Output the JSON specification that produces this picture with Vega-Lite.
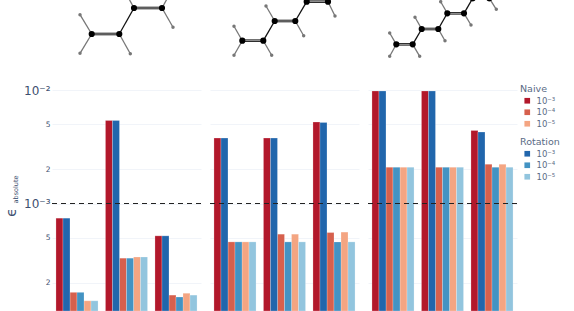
{
"$schema":"https://vega.github.io/schema/vega-lite/v6.json",
"background":"white",
"padding":{"left":4,"top":0,"right":0,"bottom":0},
"bounds":"flush",
"columns":3,
"spacing":{"column":9,"row":22},
"resolve":{"scale":{"color":"independent"},"legend":{"color":"independent"}},
"config":{"view":{"stroke":null},"font":"DejaVu Sans"},
"datasets":{
"bonds":[
{"mol":"C4","x":91.7,"y":34,"x2":119.3,"y2":34,"kind":"double"},{"mol":"C4","x":119.3,"y":34,"x2":134,"y2":8,"kind":"single"},{"mol":"C4","x":134,"y":8,"x2":162,"y2":8,"kind":"double"},
{"mol":"C4","x":91.7,"y":34,"x2":80,"y2":14.7,"kind":"ch"},{"mol":"C4","x":91.7,"y":34,"x2":80,"y2":53.3,"kind":"ch"},{"mol":"C4","x":119.3,"y":34,"x2":130.3,"y2":53.7,"kind":"ch"},{"mol":"C4","x":162,"y":8,"x2":173,"y2":27.3,"kind":"ch"},{"mol":"C4","x":134,"y":8,"x2":123,"y2":-12,"kind":"ch"},{"mol":"C4","x":162,"y":8,"x2":173,"y2":-12,"kind":"ch"},
{"mol":"C6","x":242.3,"y":40.7,"x2":263.3,"y2":40.7,"kind":"double"},{"mol":"C6","x":263.3,"y":40.7,"x2":274.7,"y2":21,"kind":"single"},{"mol":"C6","x":274.7,"y":21,"x2":295.3,"y2":21,"kind":"double"},{"mol":"C6","x":295.3,"y":21,"x2":306.7,"y2":1.7,"kind":"single"},{"mol":"C6","x":306.7,"y":1.7,"x2":328,"y2":1.7,"kind":"double"},
{"mol":"C6","x":242.3,"y":40.7,"x2":234,"y2":26.3,"kind":"ch"},{"mol":"C6","x":242.3,"y":40.7,"x2":234,"y2":55.3,"kind":"ch"},{"mol":"C6","x":263.3,"y":40.7,"x2":271.7,"y2":55.3,"kind":"ch"},{"mol":"C6","x":274.7,"y":21,"x2":266,"y2":6,"kind":"ch"},{"mol":"C6","x":295.3,"y":21,"x2":303.7,"y2":35.7,"kind":"ch"},{"mol":"C6","x":328,"y":1.7,"x2":335,"y2":16,"kind":"ch"},
{"mol":"C8","x":396.3,"y":44.3,"x2":412.7,"y2":44.3,"kind":"double"},{"mol":"C8","x":412.7,"y":44.3,"x2":421.7,"y2":29,"kind":"single"},{"mol":"C8","x":421.7,"y":29,"x2":438.3,"y2":29,"kind":"double"},{"mol":"C8","x":438.3,"y":29,"x2":447.3,"y2":13.3,"kind":"single"},{"mol":"C8","x":447.3,"y":13.3,"x2":464,"y2":13.3,"kind":"double"},{"mol":"C8","x":464,"y":13.3,"x2":472.7,"y2":-1.7,"kind":"single"},{"mol":"C8","x":472.7,"y":-1.7,"x2":489.3,"y2":-1.7,"kind":"double"},
{"mol":"C8","x":396.3,"y":44.3,"x2":389.7,"y2":33,"kind":"ch"},{"mol":"C8","x":396.3,"y":44.3,"x2":389.7,"y2":56.3,"kind":"ch"},{"mol":"C8","x":412.7,"y":44.3,"x2":419.7,"y2":56.3,"kind":"ch"},{"mol":"C8","x":421.7,"y":29,"x2":415,"y2":17.3,"kind":"ch"},{"mol":"C8","x":438.3,"y":29,"x2":445,"y2":40.7,"kind":"ch"},{"mol":"C8","x":447.3,"y":13.3,"x2":440.7,"y2":1.7,"kind":"ch"},{"mol":"C8","x":464,"y":13.3,"x2":471,"y2":25,"kind":"ch"},{"mol":"C8","x":489.3,"y":-1.7,"x2":496.3,"y2":9.3,"kind":"ch"}
],
"atoms":[
{"mol":"C4","x":91.7,"y":34,"el":"C"},{"mol":"C4","x":119.3,"y":34,"el":"C"},{"mol":"C4","x":134,"y":8,"el":"C"},{"mol":"C4","x":162,"y":8,"el":"C"},
{"mol":"C4","x":80,"y":14.7,"el":"H"},{"mol":"C4","x":80,"y":53.3,"el":"H"},{"mol":"C4","x":130.3,"y":53.7,"el":"H"},{"mol":"C4","x":173,"y":27.3,"el":"H"},
{"mol":"C6","x":242.3,"y":40.7,"el":"C"},{"mol":"C6","x":263.3,"y":40.7,"el":"C"},{"mol":"C6","x":274.7,"y":21,"el":"C"},{"mol":"C6","x":295.3,"y":21,"el":"C"},{"mol":"C6","x":306.7,"y":1.7,"el":"C"},{"mol":"C6","x":328,"y":1.7,"el":"C"},
{"mol":"C6","x":234,"y":26.3,"el":"H"},{"mol":"C6","x":234,"y":55.3,"el":"H"},{"mol":"C6","x":271.7,"y":55.3,"el":"H"},{"mol":"C6","x":266,"y":6,"el":"H"},{"mol":"C6","x":303.7,"y":35.7,"el":"H"},{"mol":"C6","x":335,"y":16,"el":"H"},
{"mol":"C8","x":396.3,"y":44.3,"el":"C"},{"mol":"C8","x":412.7,"y":44.3,"el":"C"},{"mol":"C8","x":421.7,"y":29,"el":"C"},{"mol":"C8","x":438.3,"y":29,"el":"C"},{"mol":"C8","x":447.3,"y":13.3,"el":"C"},{"mol":"C8","x":464,"y":13.3,"el":"C"},{"mol":"C8","x":472.7,"y":-1.7,"el":"C"},{"mol":"C8","x":489.3,"y":-1.7,"el":"C"},
{"mol":"C8","x":389.7,"y":33,"el":"H"},{"mol":"C8","x":389.7,"y":56.3,"el":"H"},{"mol":"C8","x":419.7,"y":56.3,"el":"H"},{"mol":"C8","x":415,"y":17.3,"el":"H"},{"mol":"C8","x":445,"y":40.7,"el":"H"},{"mol":"C8","x":440.7,"y":1.7,"el":"H"},{"mol":"C8","x":471,"y":25,"el":"H"},{"mol":"C8","x":496.3,"y":9.3,"el":"H"}
],
"bars":[
{"mol":"C4","group":"a","method":"Naive","tol":"10⁻³","series":"N3","err":0.000743},{"mol":"C4","group":"a","method":"Rotation","tol":"10⁻³","series":"R3","err":0.000743},{"mol":"C4","group":"a","method":"Naive","tol":"10⁻⁴","series":"N4","err":0.000165},{"mol":"C4","group":"a","method":"Rotation","tol":"10⁻⁴","series":"R4","err":0.000165},{"mol":"C4","group":"a","method":"Naive","tol":"10⁻⁵","series":"N5","err":0.000139},{"mol":"C4","group":"a","method":"Rotation","tol":"10⁻⁵","series":"R5","err":0.000139},
{"mol":"C4","group":"b","method":"Naive","tol":"10⁻³","series":"N3","err":0.0054},{"mol":"C4","group":"b","method":"Rotation","tol":"10⁻³","series":"R3","err":0.0054},{"mol":"C4","group":"b","method":"Naive","tol":"10⁻⁴","series":"N4","err":0.00033},{"mol":"C4","group":"b","method":"Rotation","tol":"10⁻⁴","series":"R4","err":0.00033},{"mol":"C4","group":"b","method":"Naive","tol":"10⁻⁵","series":"N5","err":0.000338},{"mol":"C4","group":"b","method":"Rotation","tol":"10⁻⁵","series":"R5","err":0.000338},
{"mol":"C4","group":"c","method":"Naive","tol":"10⁻³","series":"N3","err":0.000519},{"mol":"C4","group":"c","method":"Rotation","tol":"10⁻³","series":"R3","err":0.000519},{"mol":"C4","group":"c","method":"Naive","tol":"10⁻⁴","series":"N4","err":0.000156},{"mol":"C4","group":"c","method":"Rotation","tol":"10⁻⁴","series":"R4","err":0.00015},{"mol":"C4","group":"c","method":"Naive","tol":"10⁻⁵","series":"N5","err":0.000162},{"mol":"C4","group":"c","method":"Rotation","tol":"10⁻⁵","series":"R5","err":0.000156},
{"mol":"C6","group":"a","method":"Naive","tol":"10⁻³","series":"N3","err":0.00377},{"mol":"C6","group":"a","method":"Rotation","tol":"10⁻³","series":"R3","err":0.00377},{"mol":"C6","group":"a","method":"Naive","tol":"10⁻⁴","series":"N4","err":0.000459},{"mol":"C6","group":"a","method":"Rotation","tol":"10⁻⁴","series":"R4","err":0.000459},{"mol":"C6","group":"a","method":"Naive","tol":"10⁻⁵","series":"N5","err":0.000459},{"mol":"C6","group":"a","method":"Rotation","tol":"10⁻⁵","series":"R5","err":0.000459},
{"mol":"C6","group":"b","method":"Naive","tol":"10⁻³","series":"N3","err":0.00377},{"mol":"C6","group":"b","method":"Rotation","tol":"10⁻³","series":"R3","err":0.00377},{"mol":"C6","group":"b","method":"Naive","tol":"10⁻⁴","series":"N4","err":0.000537},{"mol":"C6","group":"b","method":"Rotation","tol":"10⁻⁴","series":"R4","err":0.000459},{"mol":"C6","group":"b","method":"Naive","tol":"10⁻⁵","series":"N5","err":0.000537},{"mol":"C6","group":"b","method":"Rotation","tol":"10⁻⁵","series":"R5","err":0.000459},
{"mol":"C6","group":"c","method":"Naive","tol":"10⁻³","series":"N3","err":0.00522},{"mol":"C6","group":"c","method":"Rotation","tol":"10⁻³","series":"R3","err":0.00518},{"mol":"C6","group":"c","method":"Naive","tol":"10⁻⁴","series":"N4","err":0.000555},{"mol":"C6","group":"c","method":"Rotation","tol":"10⁻⁴","series":"R4","err":0.000459},{"mol":"C6","group":"c","method":"Naive","tol":"10⁻⁵","series":"N5","err":0.00056},{"mol":"C6","group":"c","method":"Rotation","tol":"10⁻⁵","series":"R5","err":0.000459},
{"mol":"C8","group":"a","method":"Naive","tol":"10⁻³","series":"N3","err":0.0098},{"mol":"C8","group":"a","method":"Rotation","tol":"10⁻³","series":"R3","err":0.0098},{"mol":"C8","group":"a","method":"Naive","tol":"10⁻⁴","series":"N4","err":0.00209},{"mol":"C8","group":"a","method":"Rotation","tol":"10⁻⁴","series":"R4","err":0.00209},{"mol":"C8","group":"a","method":"Naive","tol":"10⁻⁵","series":"N5","err":0.00209},{"mol":"C8","group":"a","method":"Rotation","tol":"10⁻⁵","series":"R5","err":0.00209},
{"mol":"C8","group":"b","method":"Naive","tol":"10⁻³","series":"N3","err":0.0098},{"mol":"C8","group":"b","method":"Rotation","tol":"10⁻³","series":"R3","err":0.0098},{"mol":"C8","group":"b","method":"Naive","tol":"10⁻⁴","series":"N4","err":0.00209},{"mol":"C8","group":"b","method":"Rotation","tol":"10⁻⁴","series":"R4","err":0.00209},{"mol":"C8","group":"b","method":"Naive","tol":"10⁻⁵","series":"N5","err":0.00209},{"mol":"C8","group":"b","method":"Rotation","tol":"10⁻⁵","series":"R5","err":0.00209},
{"mol":"C8","group":"c","method":"Naive","tol":"10⁻³","series":"N3","err":0.0044},{"mol":"C8","group":"c","method":"Rotation","tol":"10⁻³","series":"R3","err":0.00426},{"mol":"C8","group":"c","method":"Naive","tol":"10⁻⁴","series":"N4","err":0.00222},{"mol":"C8","group":"c","method":"Rotation","tol":"10⁻⁴","series":"R4","err":0.00209},{"mol":"C8","group":"c","method":"Naive","tol":"10⁻⁵","series":"N5","err":0.00222},{"mol":"C8","group":"c","method":"Rotation","tol":"10⁻⁵","series":"R5","err":0.00209}
]},
"concat":[
{"width":149,"height":68,"encoding":{"x":{"field":"x","type":"quantitative","axis":null,"scale":{"domain":[52,201],"nice":false,"zero":false}},"y":{"field":"y","type":"quantitative","axis":null,"scale":{"domain":[68,0],"nice":false,"zero":false}},"x2":{"field":"x2"},"y2":{"field":"y2"}},
"layer":[
{"data":{"name":"bonds"},"transform":[{"filter":"datum.mol=='C4'&&datum.kind=='ch'"}],"mark":{"type":"rule","clip":true,"color":"#777777","strokeWidth":1.3}},
{"data":{"name":"bonds"},"transform":[{"filter":"datum.mol=='C4'&&datum.kind=='single'"}],"mark":{"type":"rule","clip":true,"color":"#111111","strokeWidth":1.3}},
{"data":{"name":"bonds"},"transform":[{"filter":"datum.mol=='C4'&&datum.kind=='double'"}],"mark":{"type":"rule","clip":true,"color":"#111111","strokeWidth":2.6}},
{"data":{"name":"bonds"},"transform":[{"filter":"datum.mol=='C4'&&datum.kind=='double'"}],"mark":{"type":"rule","clip":true,"color":"#aaaaaa","strokeWidth":1}},
{"data":{"name":"atoms"},"transform":[{"filter":"datum.mol=='C4'&&datum.el=='H'"}],"mark":{"type":"point","filled":true,"clip":true,"color":"#777777","opacity":1,"size":12},"encoding":{"x2":null,"y2":null}},
{"data":{"name":"atoms"},"transform":[{"filter":"datum.mol=='C4'&&datum.el=='C'"}],"mark":{"type":"point","filled":true,"clip":true,"color":"#000000","opacity":1,"size":38},"encoding":{"x2":null,"y2":null}}
]},
{"width":149,"height":68,"encoding":{"x":{"field":"x","type":"quantitative","axis":null,"scale":{"domain":[210,359],"nice":false,"zero":false}},"y":{"field":"y","type":"quantitative","axis":null,"scale":{"domain":[68,0],"nice":false,"zero":false}},"x2":{"field":"x2"},"y2":{"field":"y2"}},
"layer":[
{"data":{"name":"bonds"},"transform":[{"filter":"datum.mol=='C6'&&datum.kind=='ch'"}],"mark":{"type":"rule","clip":true,"color":"#777777","strokeWidth":1.3}},
{"data":{"name":"bonds"},"transform":[{"filter":"datum.mol=='C6'&&datum.kind=='single'"}],"mark":{"type":"rule","clip":true,"color":"#111111","strokeWidth":1.3}},
{"data":{"name":"bonds"},"transform":[{"filter":"datum.mol=='C6'&&datum.kind=='double'"}],"mark":{"type":"rule","clip":true,"color":"#111111","strokeWidth":2.6}},
{"data":{"name":"bonds"},"transform":[{"filter":"datum.mol=='C6'&&datum.kind=='double'"}],"mark":{"type":"rule","clip":true,"color":"#aaaaaa","strokeWidth":1}},
{"data":{"name":"atoms"},"transform":[{"filter":"datum.mol=='C6'&&datum.el=='H'"}],"mark":{"type":"point","filled":true,"clip":true,"color":"#777777","opacity":1,"size":12},"encoding":{"x2":null,"y2":null}},
{"data":{"name":"atoms"},"transform":[{"filter":"datum.mol=='C6'&&datum.el=='C'"}],"mark":{"type":"point","filled":true,"clip":true,"color":"#000000","opacity":1,"size":38},"encoding":{"x2":null,"y2":null}}
]},
{"width":149,"height":68,"encoding":{"x":{"field":"x","type":"quantitative","axis":null,"scale":{"domain":[368,517],"nice":false,"zero":false}},"y":{"field":"y","type":"quantitative","axis":null,"scale":{"domain":[68,0],"nice":false,"zero":false}},"x2":{"field":"x2"},"y2":{"field":"y2"}},
"layer":[
{"data":{"name":"bonds"},"transform":[{"filter":"datum.mol=='C8'&&datum.kind=='ch'"}],"mark":{"type":"rule","clip":true,"color":"#777777","strokeWidth":1.3}},
{"data":{"name":"bonds"},"transform":[{"filter":"datum.mol=='C8'&&datum.kind=='single'"}],"mark":{"type":"rule","clip":true,"color":"#111111","strokeWidth":1.3}},
{"data":{"name":"bonds"},"transform":[{"filter":"datum.mol=='C8'&&datum.kind=='double'"}],"mark":{"type":"rule","clip":true,"color":"#111111","strokeWidth":2.6}},
{"data":{"name":"bonds"},"transform":[{"filter":"datum.mol=='C8'&&datum.kind=='double'"}],"mark":{"type":"rule","clip":true,"color":"#aaaaaa","strokeWidth":1}},
{"data":{"name":"atoms"},"transform":[{"filter":"datum.mol=='C8'&&datum.el=='H'"}],"mark":{"type":"point","filled":true,"clip":true,"color":"#777777","opacity":1,"size":12},"encoding":{"x2":null,"y2":null}},
{"data":{"name":"atoms"},"transform":[{"filter":"datum.mol=='C8'&&datum.el=='C'"}],"mark":{"type":"point","filled":true,"clip":true,"color":"#000000","opacity":1,"size":38},"encoding":{"x2":null,"y2":null}}
]},
{"width":149,"height":221,
"title":{"text":"absolute","orient":"left","fontSize":6.5,"fontWeight":"normal","color":"#3d4f70","offset":-30,"dx":11,"dy":-15},
"data":{"name":"bars"},
"transform":[{"filter":"datum.mol=='C4'"}],
"encoding":{
"y":{"field":"err","type":"quantitative","stack":null,"title":"ϵ","scale":{"type":"log","domain":[0.000113,0.01],"nice":false},
"axis":{"values":[0.0002,0.0005,0.001,0.002,0.005,0.01],"domain":false,"ticks":false,"gridColor":"#f1f4f9","gridWidth":1,"labelColor":"#3d4f70","labelPadding":2,"labelFontSize":{"condition":{"test":"datum.value==0.01||datum.value==0.001","value":12},"value":7.5},"labelExpr":"datum.value==0.01?'10⁻²':datum.value==0.001?'10⁻³':(datum.value==0.005||datum.value==0.0005)?'5':'2'","titleColor":"#3d4f70","titleFontSize":14,"titleFontWeight":"normal","titleX":-34,"titleY":122,"titleAngle":270}}},
"layer":[
{"transform":[{"filter":"datum.method=='Naive'"}],"mark":{"type":"bar","stroke":"#ffffff","strokeOpacity":0.45,"strokeWidth":0.5},"encoding":{"x":{"field":"group","type":"nominal","axis":null,"scale":{"paddingInner":0.15,"paddingOuter":0.08}},"xOffset":{"field":"series","type":"nominal","scale":{"domain":["N3","R3","N4","R4","N5","R5"],"paddingInner":0,"paddingOuter":0}},"color":{"field":"tol","type":"nominal","legend":null,"scale":{"domain":["10⁻³","10⁻⁴","10⁻⁵"],"range":["#b2182b","#d6604d","#f4a582"]}}}},
{"transform":[{"filter":"datum.method=='Rotation'"}],"mark":{"type":"bar","stroke":"#ffffff","strokeOpacity":0.45,"strokeWidth":0.5},"encoding":{"x":{"field":"group","type":"nominal","axis":null,"scale":{"paddingInner":0.15,"paddingOuter":0.08}},"xOffset":{"field":"series","type":"nominal","scale":{"domain":["N3","R3","N4","R4","N5","R5"],"paddingInner":0,"paddingOuter":0}},"color":{"field":"tol","type":"nominal","legend":null,"scale":{"domain":["10⁻³","10⁻⁴","10⁻⁵"],"range":["#2166ac","#4393c3","#92c5de"]}}}},
{"mark":{"type":"rule","color":"#222222","opacity":0.5,"strokeWidth":1.1,"strokeDash":[5,4]},"encoding":{"y":{"datum":0.001,"type":"quantitative"}}}
],"resolve":{"scale":{"color":"independent"}}},
{"width":149,"height":221,
"data":{"name":"bars"},
"transform":[{"filter":"datum.mol=='C6'"}],
"encoding":{
"y":{"field":"err","type":"quantitative","stack":null,"title":null,"scale":{"type":"log","domain":[0.000113,0.01],"nice":false},
"axis":{"values":[0.0002,0.0005,0.001,0.002,0.005,0.01],"domain":false,"ticks":false,"labels":false,"gridColor":"#f1f4f9","gridWidth":1}}},
"layer":[
{"transform":[{"filter":"datum.method=='Naive'"}],"mark":{"type":"bar","stroke":"#ffffff","strokeOpacity":0.45,"strokeWidth":0.5},"encoding":{"x":{"field":"group","type":"nominal","axis":null,"scale":{"paddingInner":0.15,"paddingOuter":0.08}},"xOffset":{"field":"series","type":"nominal","scale":{"domain":["N3","R3","N4","R4","N5","R5"],"paddingInner":0,"paddingOuter":0}},"color":{"field":"tol","type":"nominal","legend":null,"scale":{"domain":["10⁻³","10⁻⁴","10⁻⁵"],"range":["#b2182b","#d6604d","#f4a582"]}}}},
{"transform":[{"filter":"datum.method=='Rotation'"}],"mark":{"type":"bar","stroke":"#ffffff","strokeOpacity":0.45,"strokeWidth":0.5},"encoding":{"x":{"field":"group","type":"nominal","axis":null,"scale":{"paddingInner":0.15,"paddingOuter":0.08}},"xOffset":{"field":"series","type":"nominal","scale":{"domain":["N3","R3","N4","R4","N5","R5"],"paddingInner":0,"paddingOuter":0}},"color":{"field":"tol","type":"nominal","legend":null,"scale":{"domain":["10⁻³","10⁻⁴","10⁻⁵"],"range":["#2166ac","#4393c3","#92c5de"]}}}},
{"mark":{"type":"rule","color":"#222222","opacity":0.5,"strokeWidth":1.1,"strokeDash":[5,4]},"encoding":{"y":{"datum":0.001,"type":"quantitative"}}}
],"resolve":{"scale":{"color":"independent"}}},
{"width":149,"height":221,
"data":{"name":"bars"},
"transform":[{"filter":"datum.mol=='C8'"}],
"encoding":{
"y":{"field":"err","type":"quantitative","stack":null,"title":null,"scale":{"type":"log","domain":[0.000113,0.01],"nice":false},
"axis":{"values":[0.0002,0.0005,0.001,0.002,0.005,0.01],"domain":false,"ticks":false,"labels":false,"gridColor":"#f1f4f9","gridWidth":1}}},
"layer":[
{"transform":[{"filter":"datum.method=='Naive'"}],"mark":{"type":"bar","stroke":"#ffffff","strokeOpacity":0.45,"strokeWidth":0.5},"encoding":{"x":{"field":"group","type":"nominal","axis":null,"scale":{"paddingInner":0.15,"paddingOuter":0.08}},"xOffset":{"field":"series","type":"nominal","scale":{"domain":["N3","R3","N4","R4","N5","R5"],"paddingInner":0,"paddingOuter":0}},"color":{"field":"tol","type":"nominal","scale":{"domain":["10⁻³","10⁻⁴","10⁻⁵"],"range":["#b2182b","#d6604d","#f4a582"]},
"legend":{"title":"Naive","orient":"none","legendX":152,"legendY":-6,"symbolType":"square","symbolSize":32,"symbolStrokeWidth":0,"symbolOffset":3,"labelFontSize":8.5,"labelColor":"#5a6b85","titleColor":"#5a6b85","titleFontSize":9.5,"titleFontWeight":"normal","titlePadding":3,"rowPadding":2.5,"labelOffset":5}}}},
{"transform":[{"filter":"datum.method=='Rotation'"}],"mark":{"type":"bar","stroke":"#ffffff","strokeOpacity":0.45,"strokeWidth":0.5},"encoding":{"x":{"field":"group","type":"nominal","axis":null,"scale":{"paddingInner":0.15,"paddingOuter":0.08}},"xOffset":{"field":"series","type":"nominal","scale":{"domain":["N3","R3","N4","R4","N5","R5"],"paddingInner":0,"paddingOuter":0}},"color":{"field":"tol","type":"nominal","scale":{"domain":["10⁻³","10⁻⁴","10⁻⁵"],"range":["#2166ac","#4393c3","#92c5de"]},
"legend":{"title":"Rotation","orient":"none","legendX":152,"legendY":47,"symbolType":"square","symbolSize":32,"symbolStrokeWidth":0,"symbolOffset":3,"labelFontSize":8.5,"labelColor":"#5a6b85","titleColor":"#5a6b85","titleFontSize":9.5,"titleFontWeight":"normal","titlePadding":3,"rowPadding":2.5,"labelOffset":5}}}},
{"mark":{"type":"rule","color":"#222222","opacity":0.5,"strokeWidth":1.1,"strokeDash":[5,4]},"encoding":{"y":{"datum":0.001,"type":"quantitative"}}}
],"resolve":{"scale":{"color":"independent"}}}
]}
